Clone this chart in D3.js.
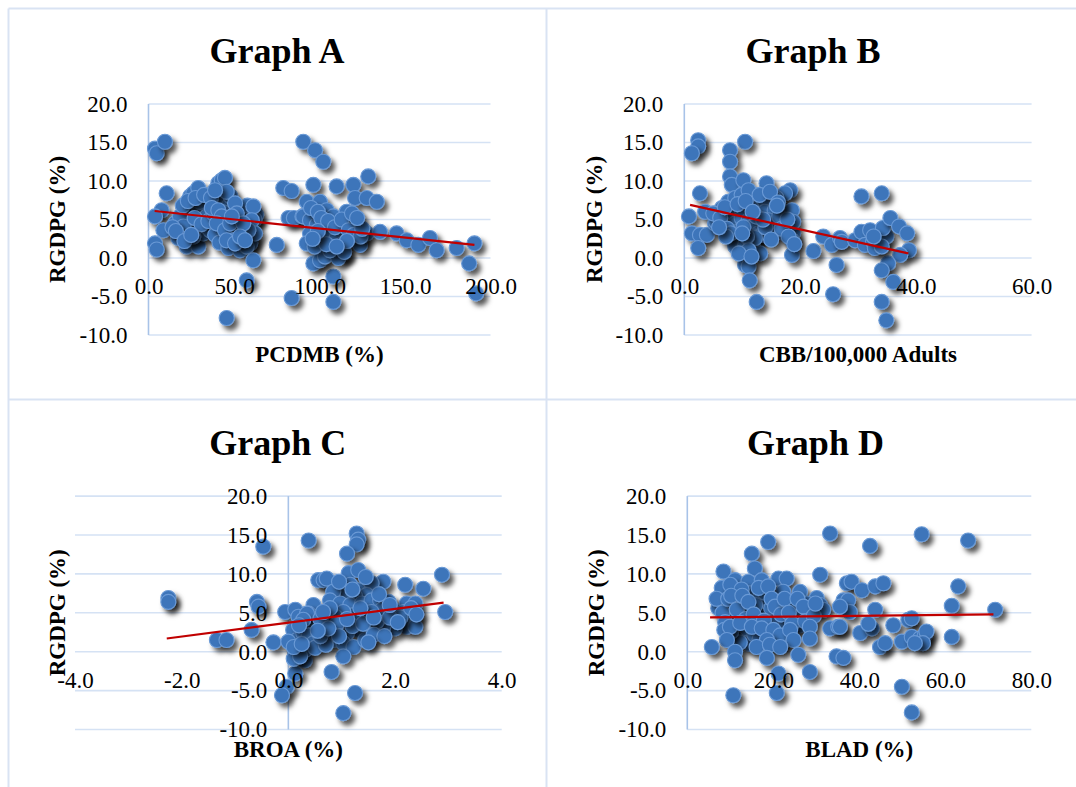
<!DOCTYPE html>
<html>
<head>
<meta charset="utf-8">
<script src="https://cdn.jsdelivr.net/npm/d3@7"></script>
<style>
  body { margin: 0; background: #fff; }
  svg { display: block; font-family: "Liberation Serif", "Times New Roman", serif; }
</style>
</head>
<body>
<svg id="chart" width="1076" height="787"></svg>
<script>
// RGDPG (%) against four banking indicators
var graphA = [
  [3.8,14.2],[4.8,13.6],[9.6,15.1],[10.6,8.4],[7.7,6.2],[3.8,5.4],[8.7,3.6],[3.8,1.9],[4.8,1.1],
  [15.5,4.5],[18.4,3.2],[17.4,2.6],[22.3,1.5],[29.1,1.5],[24.3,8.0],[26.2,8.4],[29.1,9.1],[22.3,6.2],
  [24.3,5.8],[26.2,6.5],[30.1,6.2],[32,5.6],[28.2,4.9],[24.3,4.1],[28.2,3.6],[32,3.2],[26.2,2.8],
  [34,4.1],[33,6.9],[30.1,7.3],[18.4,5.4],[20.4,4.1],[34,5.4],[36,3.6],[14,4.0],[16,3.5],[20,6.8],
  [23,7.4],[27,5.2],[31,4.4],[35,4.8],[38,5.8],[41,7.6],[43,3.8],[47,6.8],[49,3.0],[52,3.4],[54,5.2],
  [56,6.2],[58,5.2],[60,2.4],[63,5.6],
  [21,2.2],[25,3.0],[27.5,7.8],[32.5,8.2],[36.5,7.8],[39,3.0],[41.5,2.0],[44,5.9],[46,4.9],[48,8.0],
  [52.5,4.6],[55,3.4],[57.8,6.8],[59.5,1.9],[62,5.0],
  [40.8,9.7],[42.8,10.1],[44.7,10.4],[45.7,8.6],[38.9,8.8],[37,6.5],[40.8,6.2],[42.8,5.4],[39.9,4.5],
  [44.7,3.6],[47.7,4.5],[50.6,7.1],[51.6,5.8],[49.6,2.3],[46.7,1.3],[53.5,1.0],[57.4,1.5],[61.3,6.7],
  [60.4,4.9],[62.3,3.2],[58.4,3.6],[55.4,4.5],[61.3,-0.3],[57.4,-2.9],[45.7,-7.8],[45.7,2.3],[50.6,1.9],
  [53.5,2.8],[56.4,2.3],[48.7,5.4],
  [75,1.7],[78.8,9.1],[83.7,8.7],[83.7,-5.2],[90.5,15.1],[81.9,5.2],[85,5.2],[90,5.4],
  [97.4,14.0],[102.2,12.5],[96.4,9.5],[110,9.3],[119.8,9.5],[128.5,10.6],[120.8,7.8],[127.6,7.8],
  [133.5,7.3],[92.5,7.3],[100.3,7.3],[104.2,6.2],[90.5,5.4],[94.4,4.9],[108.1,5.4],[115.9,6.0],
  [118.8,4.7],[112,4.3],[107.1,3.6],[103.2,4.1],[98.4,4.3],[94.4,3.2],[92.5,1.9],[100.3,2.3],[105.1,2.8],
  [110,2.6],[113.9,1.9],[121.8,2.3],[123.7,1.7],[127.6,3.2],[135.4,3.4],[145.1,3.2],[151,2.3],[157.8,1.7],
  [164.6,2.6],[168.5,1.0],[180.2,1.3],[190.6,1.9],[187.5,-0.7],[191.6,-4.6],
  [96.4,-0.7],[108.1,-2.4],[108.1,-5.7],[100.3,-0.3],[103.2,0.2],[113.9,0.6],[111,0.0],[106.1,1.0],
  [97.1,1.5],[114.4,0.8],[95,6.5],[99,6.0],[101,5.2],[105,4.8],[109,4.0],[113,5.0],[117,3.6],[120,3.0],
  [124,2.8],[125,3.8],[116,2.2],[104,1.8],[99,3.5],[96,2.5],[110,1.5],[119,5.8],[122,5.2]
];

var graphB = [
  [2.4,15.3],[2.4,14.5],[1.3,13.6],[10.5,15.1],[7.9,14.0],[7.9,12.5],[2.7,8.4],[7.9,10.6],[8.2,9.5],
  [10.2,10.1],[14.2,9.7],[18.3,8.8],[17.4,8.4],[15.9,7.8],[15.4,7.8],
  [0.8,5.4],[1.3,3.2],[2.7,3.0],[3.9,3.0],[2.4,1.3],[3.6,6.0],[5.3,4.5],[6.5,6.5],[5.5,4.7],
  [7.6,7.3],[8.8,7.8],[9.9,8.2],[11.1,8.8],[11.9,7.1],[13.4,7.3],
  [8.8,5.8],[9.9,6.2],[11.6,6.5],[13.9,6.0],[15.6,6.2],[17.4,6.0],[18.6,6.2],
  [7.6,4.9],[8.8,4.5],[9.9,5.2],[11.1,4.9],[12.8,4.5],[14.5,4.9],[9.6,3.6],[11.3,3.9],[12.8,3.2],
  [15.1,3.4],[17.4,3.2],[18.8,3.2],[18.8,4.7],[8.5,2.3],[9.9,2.8],[12.2,2.8],[13.4,3.0],[18.6,2.3],
  [8.8,1.5],[10.5,1.7],[11.9,1.3],[13.1,0.6],[12.2,2.6],[10.8,2.8],[11.1,1.0],[18.6,0.4],
  [10.5,-0.9],[11.1,-1.1],[11.3,-2.9],[12.5,-5.7],
  [5,5.8],[6.2,5.2],[7,6.6],[7.4,3.8],[8,3.2],[9.2,7.0],[10.2,4.0],[10.6,7.4],[12.4,5.4],[13,8.2],
  [14,4.0],[16.4,5.4],[16.8,3.8],[17.8,5.0],[18,2.8],[19,1.8],[9.4,0.6],[11.6,0.2],[7.2,2.8],[6,4.0],
  [14.8,8.6],[16.2,7.2],[13.6,5.0],[11.8,6.0],[10,3.2],[15,2.4],[16,6.8],
  [22.3,0.9],[24,2.8],[25.5,1.7],[26.9,2.6],[26.3,-0.9],[25.7,-4.7],
  [30.6,8.0],[34.1,8.4],[27.2,2.1],[29.5,2.3],[30.6,3.4],[32.1,3.6],
  [31.2,1.7],[32.6,2.1],[33.8,2.3],[34.9,2.8],[34.3,3.9],[35.6,5.2],[37.1,4.1],[38.5,3.2],[38.8,1.0],
  [37.3,0.4],[35.2,-0.7],[34.1,-1.6],[36.1,-3.1],[34.1,-5.7],[34.9,-8.1],[32.9,1.3],[34.1,1.5],[32.7,2.8]
];

var graphC = [
  [-2.25,6.9],[-2.25,6.4],[-0.47,13.5],[0.38,14.3],[-0.59,6.4],[-0.56,5.8],[-1.34,1.5],[-1.16,1.5],
  [-0.69,2.8],[-0.28,1.2],[-0.06,5.1],
  [0.13,5.4],[0.19,4.5],[0.09,2.8],[0.16,1.5],[0.22,-0.2],[0.31,-1.1],[0.13,-0.2],[0,1.3],[0.13,-2.8],
  [0.1,-0.9],[-0.03,-4.5],[-0.12,-5.6],
  [0.56,9.2],[0.47,6.0],[0.38,4.9],[0.53,4.5],[0.44,3.2],[0.41,1.9],[0.28,2.4],
  [1.28,15.2],[1.31,14.4],[1.28,13.8],[1.1,12.6],[1.13,10.1],[1.31,10.5],[0.66,9.2],[0.72,9.4],
  [1.78,9.0],[2.19,8.6],[2.53,8.1],[2.88,9.9],[2.94,5.1],
  [0.97,8.4],[1.16,8.6],[1.31,7.9],[1.56,8.8],[1.47,7.3],[1.25,7.1],[1.06,7.1],[0.84,7.7],[0.78,6.6],
  [0.97,6.2],[1.16,6.0],[1.38,6.2],[1.56,6.6],[1.72,6.6],[1.88,6.4],[1.75,5.4],[1.56,5.1],[1.38,4.7],
  [1.22,4.7],[1.03,5.1],[0.88,4.5],[0.78,5.6],[2.22,6.2],[2.38,6.2],[1.97,5.4],[2.16,5.1],[2.35,4.5],
  [2.22,3.2],[2.38,3.2],[2.0,3.0],[1.78,3.2],[1.66,3.9],[1.47,4.1],[1.31,2.8],[1.1,2.4],[0.91,2.6],
  [0.69,2.4],[0.5,3.4],[0.35,4.9],[0.28,4.1],[0.38,2.1],[0.47,1.1],[0.31,0.2],[0.22,-0.6],[0.84,1.5],
  [1.03,1.1],[1.22,0.6],[1.44,1.5],[1.03,-0.6],[0.81,-2.6],[1.25,-5.3],[1.03,-7.9],
  [0.5,0.5],[0.7,0.9],[0.6,2.0],[0.9,3.5],[1.2,3.3],[1.4,3.6],[1.6,2.2],[1.8,2.0],[2.1,4.4],[1.5,1.2],
  [0.95,2.0],[0.1,0.6],[0.25,1.0],[0.6,4.2],[0.75,3.0],[1.9,4.4],[2.3,5.6],[1.7,7.4],
  [1.1,4.2],[1.35,5.6],[1.6,4.4],[1.9,6.0],[2.05,3.8],[2.4,4.8],[0.95,9.0],[1.45,9.6],[1.2,8.0],
  [0.65,5.1],[0.55,2.7],[0.2,3.4]
];

var graphD = [
  [33.2,15.2],[18.8,14.1],[15,12.6],[8.4,10.3],[15.7,10.7],[30.9,9.9],
  [11.1,9.2],[14.2,9.0],[17.3,9.2],[21.2,9.4],[23.1,9.4],[22.3,7.7],[26.2,7.7],[30.1,6.9],
  [7.6,6.6],[9.2,7.5],[9.9,5.8],[12.3,6.6],[14.6,7.5],[16.9,6.9],[18.5,6.2],[20.8,6.4],[24.7,6.6],
  [27.8,6.2],[30.9,6.0],[7.2,5.6],[9.2,4.5],[12.3,4.9],[14.6,5.4],[17.3,5.1],[20,4.7],[22.3,5.6],
  [25,5.4],[28.5,5.4],[31.6,5.4],
  [8,8.2],[10,8.6],[12.6,8.0],[13,5.8],[15.8,6.0],[16,4.2],[18,7.6],[19.5,5.6],[21,3.6],[23,4.2],
  [24,6.0],[26.5,4.6],[11,2.2],[13.5,2.0],[14.5,1.0],[17,2.3],[19.8,3.8],[22.8,3.3],[26.2,3.4],
  [8.6,6.2],[10.5,3.8],[6.8,6.8],
  [8.2,5.0],[8.8,3.8],[9.5,6.8],[10.2,7.2],[11.5,5.4],[12.8,7.2],[13.6,4.2],[14.2,6.4],[15.4,4.8],
  [16.6,8.2],[17.8,4.0],[18.8,8.4],[19.6,6.8],[20.4,5.8],[21.8,4.8],[22.6,6.8],[23.6,5.0],[24.4,3.6],
  [25.6,6.8],[27,5.8],[27.4,3.9],[29.4,4.6],[29.8,6.2],[13.8,3.0],[15.6,2.2],[16.8,1.6],[18.2,2.6],
  [19.4,1.8],[20.6,1.2],[22.2,1.4],[12.2,1.2],[10.2,2.6],[8.6,2.8],
  [9.9,3.2],[12.3,3.7],[15,3.2],[17.3,3.0],[20,2.8],[21.6,2.1],[23.9,2.8],[24.7,1.5],[18.5,1.5],
  [16.1,0.6],[19.2,0.9],[21.6,0.6],[28.5,3.2],[28.5,1.7],[33.2,3.0],[35.1,3.2],
  [9.2,1.5],[11.1,0],[11.1,-1.1],[5.7,0.6],[18.5,-0.8],[25.8,-0.4],[28.5,-2.6],[21.2,-2.8],[10.7,-5.6],
  [20.8,-5.3],[34.7,-0.6],[36.3,-0.8],[37.1,8.8],[36.3,6.6],
  [54.5,15.1],[65.3,14.3],[42.5,13.6],[38.2,9.0],[40.6,7.9],[43.7,8.4],[45.6,8.8],[63,8.4],[37.4,6.6],
  [37.8,5.1],[43.7,5.4],[35.5,5.8],[61.5,5.9],[71.6,5.4],[35.5,3.2],[40.2,2.4],[42.9,3.0],[42.1,3.6],
  [47.9,3.4],[51.4,4.1],[52.2,4.3],
  [44.8,0.6],[46,1.1],[49.9,1.3],[52.2,1.9],[54.1,1.7],[55.2,2.1],[55.6,2.6],[54.8,1.1],[52.9,1.1],
  [61.5,1.9],[49.9,-4.5],[52.2,-7.8]
];

// linear trend lines, end points as drawn
var trendA = [[3.6,6.1],[190.6,1.7]];
var trendB = [[1.0,6.9],[38.7,0.6]];
var trendC = [[-2.28,1.7],[2.91,6.3]];
var trendD = [[5.3,4.4],[71.2,4.8]];

var yTicks = [-10,-5,0,5,10,15,20];
var xTicksA = [0,50,100,150,200];
var xTicksB = [0,20,40,60];
var xTicksC = [-4,-2,0,2,4];
var xTicksD = [0,20,40,60,80];

var titles = ['Graph A','Graph B','Graph C','Graph D'];
var xLabels = ['PCDMB (%)','CBB/100,000 Adults','BROA (%)','BLAD (%)'];
var yLabel = 'RGDPG (%)';

var panels = [
  {pts: graphA, trend: trendA, xTicks: xTicksA, xRange: [148.5,490.5], yRange: [335,104], cx: 277, top: 0, lx: 57},
  {pts: graphB, trend: trendB, xTicks: xTicksB, xRange: [684.3,1031.6], yRange: [335,104], cx: 813, top: 0, lx: 594},
  {pts: graphC, trend: trendC, xTicks: xTicksC, xRange: [75,501.7], yRange: [729.5,496.1], cx: 277.7, top: 392, lx: 57},
  {pts: graphD, trend: trendD, xTicks: xTicksD, xRange: [687.3,1031.3], yRange: [729.5,496.1], cx: 815.4, top: 392, lx: 596}
];
panels.forEach((p, i) => { p.title = titles[i]; p.xLabel = xLabels[i] });

var svg = d3.select('#chart');

svg.append('defs').append('filter')
  .attr('id', 'shadow').attr('x', '-60%').attr('y', '-60%').attr('width', '240%').attr('height', '240%')
  .append('feDropShadow')
  .attr('dx', 4).attr('dy', 4.5).attr('stdDeviation', 2.6)
  .attr('flood-color', '#000').attr('flood-opacity', 0.65);

// panel frame
var frameColor = '#d9e3f3';
var frame = [
  [8.5, 8.5, 1076, 8.5], [8.5, 8.5, 8.5, 787],
  [546.5, 8.5, 546.5, 787], [8.5, 399.5, 1076, 399.5]
];
svg.selectAll('line.frame').data(frame).join('line')
  .attr('x1', d => d[0]).attr('y1', d => d[1]).attr('x2', d => d[2]).attr('y2', d => d[3])
  .attr('stroke', frameColor).attr('stroke-width', 2);

panels.forEach(drawPanel);

function drawPanel(p){
  var xt = p.xTicks;
  var x = d3.scaleLinear().domain([xt[0], xt[xt.length - 1]]).range(p.xRange);
  var y = d3.scaleLinear().domain([yTicks[0], yTicks[yTicks.length - 1]]).range(p.yRange);
  var g = svg.append('g');

  g.selectAll('line.grid').data(yTicks).join('line')
    .attr('x1', x.range()[0]).attr('x2', x.range()[1])
    .attr('y1', d => y(d)).attr('y2', d => y(d))
    .attr('stroke', '#d5e2f4').attr('stroke-width', 1.6);

  g.append('line')
    .attr('x1', x(0)).attr('x2', x(0))
    .attr('y1', y.range()[0]).attr('y2', y.range()[1])
    .attr('stroke', '#a8c3e8').attr('stroke-width', 1.6);

  // markers
  g.append('g').selectAll('circle').data(p.pts).join('circle')
    .attr('cx', d => x(d[0])).attr('cy', d => y(d[1])).attr('r', 7.5)
    .attr('fill', '#3d74ba').attr('stroke', '#6a9ad6').attr('stroke-width', 1.1)
    .attr('filter', 'url(#shadow)');

  g.append('path')
    .datum(p.trend)
    .attr('d', d3.line().x(d => x(d[0])).y(d => y(d[1])))
    .attr('stroke', '#c00000').attr('stroke-width', 2.2).attr('fill', 'none');

  var fmt = d => d.toFixed(1);

  var ya = g.append('g').attr('transform', `translate(${x(0)},0)`)
    .call(d3.axisLeft(y).tickValues(yTicks).tickFormat(fmt).tickSize(0).tickPadding(21));
  var xa = g.append('g').attr('transform', `translate(0,${y(0)})`)
    .call(d3.axisBottom(x).tickValues(xt).tickFormat(fmt).tickSize(0).tickPadding(20));
  [ya, xa].forEach(a => {
    a.select('.domain').remove();
    a.attr('font-family', null).attr('font-size', null);
    a.selectAll('text').attr('font-size', 23).attr('fill', '#000');
  });

  g.append('text')
    .attr('x', p.cx).attr('y', p.top + 63)
    .attr('text-anchor', 'middle').attr('font-size', 36).attr('font-weight', 'bold')
    .text(p.title);

  var midX = (x.range()[0] + x.range()[1]) / 2;
  g.append('text')
    .attr('x', midX).attr('y', y.range()[0] + 27)
    .attr('text-anchor', 'middle').attr('font-size', 23).attr('font-weight', 'bold')
    .text(p.xLabel);

  var midY = (y.range()[0] + y.range()[1]) / 2;
  g.append('text')
    .attr('transform', `translate(${p.lx},${midY}) rotate(-90)`)
    .attr('text-anchor', 'middle').attr('dy', '0.35em')
    .attr('font-size', 23).attr('font-weight', 'bold')
    .text(yLabel);
}
</script>
</body>
</html>
